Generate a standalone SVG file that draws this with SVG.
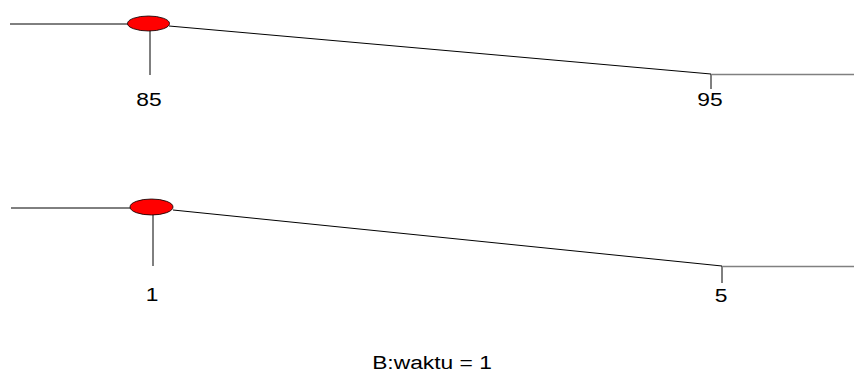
<svg xmlns="http://www.w3.org/2000/svg" width="854" height="376" viewBox="0 0 854 376">
<style>
.ln{stroke:#000;stroke-width:1;fill:none}
.gr{stroke:#808080;stroke-width:1.5;fill:none}
.dot{fill:#ff0000;stroke:#000;stroke-width:0.8}
text{font-family:"Liberation Sans",Arial,sans-serif;font-size:19px;fill:#000;text-anchor:middle}
</style>
<rect width="854" height="376" fill="#fff"/>
<g id="connectors">
<line class="ln" x1="10" y1="24" x2="128" y2="24"/>
<line class="ln" x1="150" y1="30" x2="150" y2="75"/>
<line class="ln" x1="169" y1="26" x2="711" y2="74"/>
<line class="ln" x1="711" y1="74" x2="711" y2="89"/>
<line class="gr" x1="711" y1="74.5" x2="854" y2="74.5"/>
<line class="ln" x1="11" y1="208" x2="131" y2="208"/>
<line class="ln" x1="153" y1="215" x2="153" y2="266"/>
<line class="ln" x1="173" y1="210" x2="722" y2="266"/>
<line class="ln" x1="722" y1="266" x2="722" y2="283"/>
<line class="gr" x1="722" y1="266.5" x2="854" y2="266.5"/>
</g>
<g id="node-top">
<ellipse class="dot" cx="148.5" cy="23.5" rx="21" ry="7.5"/>
<text transform="translate(149,106) scale(1.2,1)">85</text>
</g>
<g id="node-top-end">
<text transform="translate(710,106) scale(1.2,1)">95</text>
</g>
<g id="node-bottom">
<ellipse class="dot" cx="151.5" cy="207" rx="21.5" ry="8"/>
<text transform="translate(152,301) scale(1.2,1)">1</text>
</g>
<g id="node-bottom-end">
<text transform="translate(721,302) scale(1.2,1)">5</text>
</g>
<g id="caption">
<text transform="translate(432,369) scale(1.2,1)">B:waktu = 1</text>
</g>
</svg>
